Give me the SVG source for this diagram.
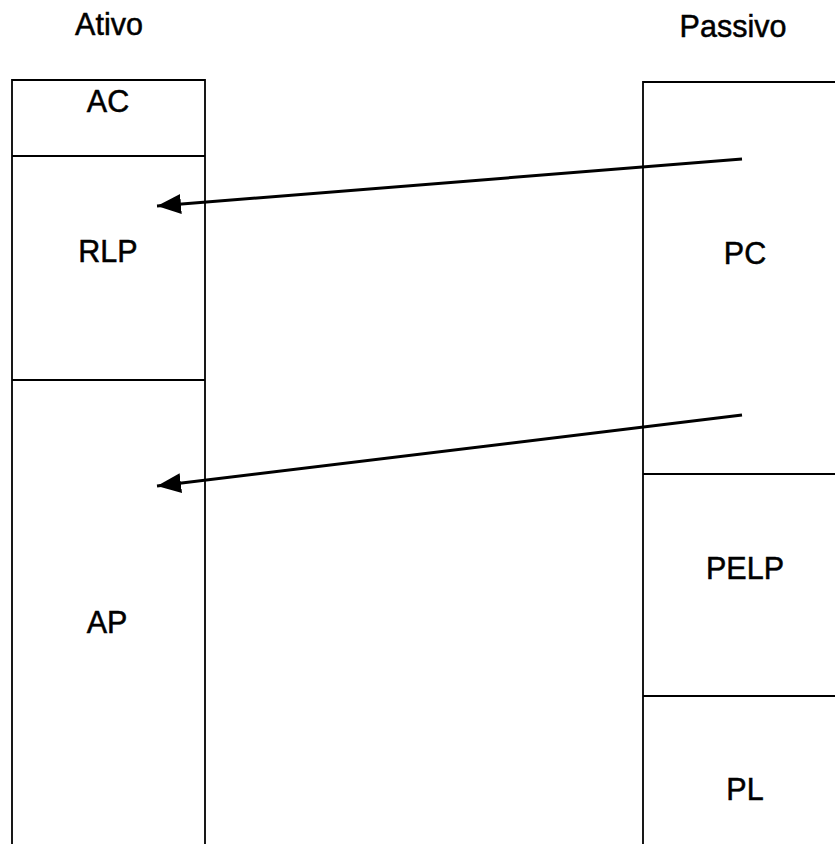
<svg xmlns="http://www.w3.org/2000/svg" width="835" height="844" viewBox="0 0 835 844">
  <style>
    .box { fill: none; stroke: #000; stroke-width: 1.8; }
    .div { stroke: #000; stroke-width: 1.8; }
    .lbl { font-family: "Liberation Sans", Arial, sans-serif; font-size: 30.5px; fill: #000; stroke: #000; stroke-width: 0.5; text-anchor: middle; }
    .arrow { stroke: #000; stroke-width: 3; fill: none; marker-end: url(#head); }
  </style>
  <defs>
    <marker id="head" markerUnits="userSpaceOnUse" markerWidth="26" markerHeight="22" refX="24" refY="11" orient="auto">
      <path d="M0,1 L24,11 L0,21 Z" fill="#000"/>
    </marker>
  </defs>
  <rect width="835" height="844" fill="#fff"/>

  <!-- column headings -->
  <text class="lbl" x="109" y="35">Ativo</text>
  <text class="lbl" x="733" y="37">Passivo</text>

  <!-- assets column -->
  <g id="ativo">
    <path class="box" d="M12,845 V80 H205 V845"/>
    <g id="ac">
      <text class="lbl" x="108" y="112">AC</text>
    </g>
    <line class="div" x1="12" y1="156" x2="205" y2="156"/>
    <g id="rlp">
      <text class="lbl" x="108" y="262">RLP</text>
    </g>
    <line class="div" x1="12" y1="380" x2="205" y2="380"/>
    <g id="ap">
      <text class="lbl" x="107" y="633">AP</text>
    </g>
  </g>

  <!-- liabilities column -->
  <g id="passivo">
    <path class="box" d="M643,845 V82 H836"/>
    <g id="pc">
      <text class="lbl" x="745" y="264">PC</text>
    </g>
    <line class="div" x1="643" y1="474" x2="836" y2="474"/>
    <g id="pelp">
      <text class="lbl" x="745" y="579">PELP</text>
    </g>
    <line class="div" x1="643" y1="696" x2="836" y2="696"/>
    <g id="pl">
      <text class="lbl" x="745" y="800">PL</text>
    </g>
  </g>

  <!-- connectors -->
  <g id="connectors">
    <line class="arrow" x1="742" y1="159" x2="157" y2="206"/>
    <line class="arrow" x1="742" y1="415" x2="157" y2="486"/>
  </g>
</svg>
